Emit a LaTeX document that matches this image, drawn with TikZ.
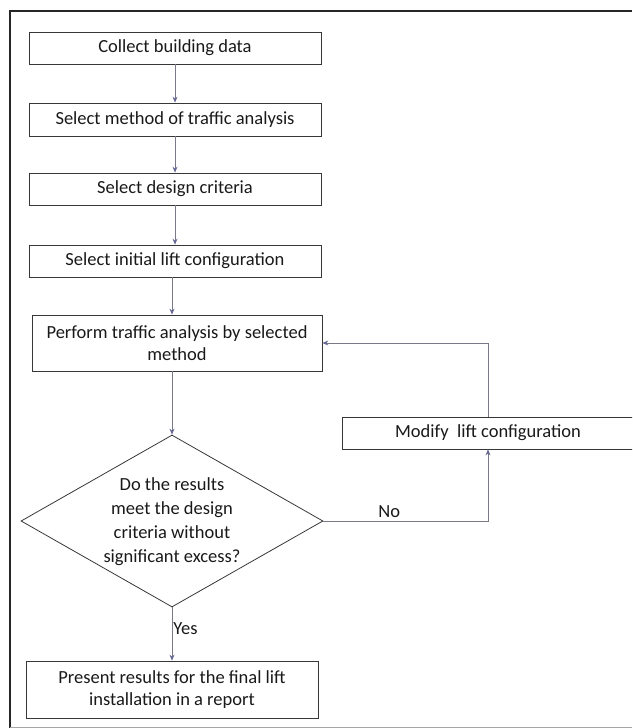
\documentclass[tikz,border=0pt]{standalone}
\usepackage{fontspec}
\setmainfont{Carlito}
\usetikzlibrary{shapes.geometric,arrows.meta,calc}
\definecolor{boxline}{RGB}{55,55,55}
\definecolor{conline}{RGB}{120,120,135}
\definecolor{tipcol}{RGB}{105,105,150}
\begin{document}
\begin{tikzpicture}[x=1pt,y=-1pt,
  every node/.style={font=\fontsize{18.5}{22}\selectfont, text=black!90},
  stepbox/.style={draw=boxline, line width=0.8pt, rectangle, minimum width=292pt, inner sep=0pt, align=center},
  conn/.style={draw=conline, line width=0.7pt, -{Stealth[length=6pt,width=5pt,color=tipcol]}},
  lbl/.style={inner sep=1pt}]
\useasboundingbox (0,0) rectangle (632,728);
\clip (0,0) rectangle (632,728);
% frame
\draw[line width=1.8pt, black!85] (10,728) -- (10,11) -- (632,11);
\draw[line width=0.6pt, black!35] (10,727) -- (632,727);
% nodes
\node[stepbox, minimum height=32pt] (b1) at (175,48) {Collect building data};
\node[stepbox, minimum height=33pt] (b2) at (175,119.5) {Select method of traffic analysis};
\node[stepbox, minimum height=32pt] (b3) at (175,189) {Select design criteria};
\node[stepbox, minimum height=32pt] (b4) at (175,261) {Select initial lift configuration};
\node[stepbox, minimum width=290pt, minimum height=56pt] (b5) at (177,343) {Perform traffic analysis by selected\\method};
\node[diamond, draw=boxline, line width=0.8pt, minimum width=302pt, minimum height=172pt, inner sep=0pt] (dec) at (172,521) {};
\node[align=center, inner sep=0pt, font=\fontsize{18.5}{24}\selectfont] (dectext) at (172,522) {Do the results\\meet the design\\criteria without\\significant excess?};
\node[stepbox, minimum width=292pt, minimum height=32pt] (mod) at (488,433) {Modify\ \ lift configuration};
\node[stepbox, minimum width=292pt, minimum height=57pt] (b6) at (172,689.5) {Present results for the final lift\\installation in a report};
% connectors
\draw[conn] (b1) -- (b2);
\draw[conn] (b2) -- (b3);
\draw[conn] (b3) -- (b4);
\draw[conn] (b4.south -| dec.north) -- (b5.north -| dec.north);
\draw[conn] (dec.north |- b5.south) -- (dec.north);
\draw[conn] (dec.south) -- node[lbl, right, pos=0.4] (yes) {Yes} (b6.north -| dec.south);
\draw[conn] (dec.east) -- node[lbl, above, pos=0.4, yshift=2pt] (no) {No} (dec.east -| mod.south) -- (mod.south);
\draw[conn] (mod.north) -- (mod.north |- b5.east) -- (b5.east);
\end{tikzpicture}
\end{document}
